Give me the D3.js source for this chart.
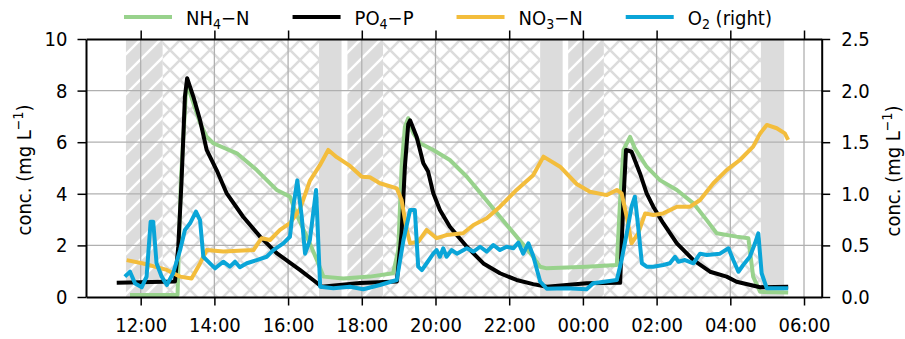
<!DOCTYPE html>
<html>
<head>
<meta charset="utf-8">
<script src="https://cdn.jsdelivr.net/npm/d3@7"></script>
<style>
body { margin: 0; background: #ffffff; }
svg text { font-family: 'DejaVu Sans Condensed', 'DejaVu Sans', sans-serif; font-stretch: condensed; font-size: 20px; fill: #000; }
</style>
</head>
<body>
<svg id="chart" width="905" height="339"></svg>
<script>
// times are hours counted from midnight of the first day
const nh4Time = [11.71, 12.93, 13.0, 13.09, 13.23, 13.27, 13.61, 13.79, 13.97, 14.61, 15.15, 15.69, 16.05, 16.23, 16.59, 16.82, 16.96, 17.50, 18.22, 18.85, 18.99, 19.08, 19.17, 19.26, 19.40, 19.58, 19.94, 20.39, 20.85, 21.30, 21.75, 22.20, 22.65, 22.84, 23.02, 24.10, 24.92, 25.01, 25.10, 25.28, 25.41, 25.73, 26.09, 26.55, 27.00, 27.36, 27.63, 28.17, 28.49, 28.62, 28.81, 29.57];
const nh4 = [0.08, 0.08, 0.08, 4.5, 8.0, 8.2, 6.75, 6.21, 5.96, 5.57, 4.92, 4.15, 3.89, 3.2, 2.08, 1.3, 0.79, 0.72, 0.79, 0.92, 1.82, 5.05, 6.6, 6.93, 6.34, 5.96, 5.7, 5.31, 4.66, 3.89, 3.11, 2.34, 1.56, 1.17, 1.11, 1.17, 1.24, 3.76, 5.7, 6.21, 5.76, 5.05, 4.53, 4.15, 3.63, 2.98, 2.47, 2.34, 2.28, 0.79, 0.2, 0.17];

const po4Time = [11.35, 12.93, 13.02, 13.11, 13.20, 13.26, 13.43, 13.61, 13.79, 14.06, 14.33, 14.78, 15.24, 15.69, 16.32, 16.68, 16.91, 17.95, 18.95, 19.08, 19.17, 19.26, 19.31, 19.49, 19.67, 19.80, 19.94, 20.12, 20.39, 20.85, 21.30, 21.75, 22.20, 22.65, 23.02, 24.10, 25.01, 25.10, 25.17, 25.32, 25.55, 25.73, 25.91, 26.18, 26.55, 27.00, 27.45, 27.90, 28.17, 28.81, 29.57];
const po4 = [0.55, 0.6, 1.95, 4.53, 7.76, 8.48, 7.76, 6.86, 5.7, 4.92, 4.03, 3.11, 2.34, 1.7, 1.05, 0.66, 0.4, 0.54, 0.6, 2.48, 5.05, 6.7, 6.85, 6.2, 5.18, 4.86, 4.02, 3.37, 2.72, 1.95, 1.3, 0.92, 0.66, 0.5, 0.4, 0.53, 0.55, 3.76, 5.7, 5.63, 4.79, 4.02, 3.5, 2.86, 2.08, 1.43, 0.98, 0.79, 0.59, 0.38, 0.4];

const no3Time = [11.62, 12.07, 12.71, 13.07, 13.38, 13.61, 13.79, 14.24, 15.06, 15.28, 15.51, 15.78, 16.05, 16.32, 16.59, 16.86, 17.09, 17.32, 17.68, 18.00, 18.22, 18.49, 18.95, 19.08, 19.22, 19.31, 19.53, 19.76, 20.03, 20.30, 20.75, 21.03, 21.39, 21.75, 22.20, 22.65, 22.93, 23.38, 23.83, 24.19, 24.65, 24.92, 25.05, 25.19, 25.32, 25.50, 25.69, 25.91, 26.18, 26.55, 26.91, 27.18, 27.54, 27.90, 28.26, 28.62, 28.81, 28.99, 29.26, 29.48, 29.57];
const no3 = [1.43, 1.3, 1.05, 0.79, 0.72, 1.3, 1.82, 1.76, 1.82, 2.28, 2.21, 2.6, 2.86, 3.4, 4.5, 5.1, 5.7, 5.42, 5.08, 4.66, 4.64, 4.41, 4.21, 3.76, 2.6, 2.08, 2.14, 2.6, 2.28, 2.4, 2.47, 2.79, 3.05, 3.5, 4.15, 4.72, 5.44, 5.05, 4.38, 4.08, 3.95, 4.15, 4.02, 3.11, 2.08, 2.47, 3.24, 3.18, 3.24, 3.5, 3.5, 3.76, 4.41, 4.92, 5.31, 5.83, 6.34, 6.67, 6.54, 6.34, 6.09];

const o2Time = [11.57, 11.71, 11.85, 12.03, 12.16, 12.27, 12.34, 12.43, 12.57, 12.71, 12.88, 13.07, 13.20, 13.34, 13.50, 13.61, 13.70, 13.79, 14.02, 14.24, 14.42, 14.56, 14.69, 14.88, 15.15, 15.42, 15.60, 15.87, 16.05, 16.14, 16.25, 16.37, 16.46, 16.59, 16.76, 16.87, 17.23, 17.68, 18.04, 18.49, 18.95, 19.13, 19.31, 19.44, 19.53, 19.63, 19.76, 19.94, 20.03, 20.12, 20.21, 20.30, 20.44, 20.58, 20.85, 21.03, 21.21, 21.39, 21.57, 21.75, 21.93, 22.11, 22.25, 22.38, 22.52, 22.65, 22.84, 23.02, 23.56, 24.10, 24.28, 24.92, 25.05, 25.19, 25.32, 25.41, 25.50, 25.60, 25.73, 25.91, 26.18, 26.36, 26.50, 26.59, 26.77, 27.00, 27.18, 27.36, 27.72, 27.95, 28.08, 28.22, 28.35, 28.53, 28.67, 28.76, 28.85, 28.99, 29.57];
const o2 = [0.197, 0.245, 0.13, 0.094, 0.197, 0.73, 0.73, 0.327, 0.197, 0.116, 0.23, 0.455, 0.65, 0.714, 0.827, 0.746, 0.39, 0.358, 0.278, 0.342, 0.294, 0.342, 0.288, 0.327, 0.358, 0.39, 0.455, 0.52, 0.584, 0.875, 1.13, 0.778, 0.42, 0.55, 1.037, 0.1, 0.084, 0.1, 0.075, 0.116, 0.165, 0.55, 0.843, 0.843, 0.294, 0.26, 0.327, 0.42, 0.455, 0.39, 0.472, 0.39, 0.455, 0.42, 0.472, 0.44, 0.487, 0.44, 0.504, 0.455, 0.487, 0.472, 0.526, 0.42, 0.52, 0.4, 0.15, 0.08, 0.084, 0.075, 0.133, 0.165, 0.358, 0.617, 0.875, 0.972, 0.681, 0.327, 0.294, 0.294, 0.31, 0.327, 0.39, 0.342, 0.358, 0.327, 0.42, 0.407, 0.42, 0.472, 0.358, 0.245, 0.31, 0.39, 0.52, 0.617, 0.23, 0.084, 0.084];

// reactor phases (fill / aeration / settling)
const phaseStart = [11.60, 12.60, 16.84, 17.61, 18.58, 22.84, 23.60, 24.57, 28.83];
const phaseEnd   = [12.60, 16.84, 17.45, 18.58, 22.84, 23.45, 24.57, 28.83, 29.46];
const phaseType  = ['fill', 'aer', 'settle', 'fill', 'aer', 'settle', 'fill', 'aer', 'settle'];

const leftTicks = [0, 2, 4, 6, 8, 10];
const rightTicks = [0, 0.5, 1.0, 1.5, 2.0, 2.5];
const seriesNames = [['NH', '4', '\u2212N'], ['PO', '4', '\u2212P'], ['NO', '3', '\u2212N'], ['O', '2', ' (right)']];
const seriesColors = ['#98d28c', '#000000', '#f3bd3c', '#0aa5d8'];

const day0 = new Date(2021, 0, 1);
const toDate = h => new Date(day0.getTime() + h * 3600e3);

const margin = { left: 86, right: 821.7, top: 39, bottom: 297 };
const svg = d3.select('#chart');

const x = d3.scaleTime()
    .domain([toDate(10.516), toDate(30.48)])
    .range([margin.left, margin.right]);
const yL = d3.scaleLinear().domain([0, 10]).range([margin.bottom, margin.top]);
const yR = d3.scaleLinear().domain([0, 2.5]).range([margin.bottom, margin.top]);

// hatch patterns
const defs = svg.append('defs');
const diag = defs.append('pattern')
    .attr('id', 'diag')
    .attr('patternUnits', 'userSpaceOnUse')
    .attr('width', 20).attr('height', 20);
diag.append('rect').attr('width', 20).attr('height', 20).attr('fill', '#dcdcdc');
diag.append('path')
    .attr('d', 'M-10,10L10,-10M-10,30L30,-10M10,30L30,10')
    .attr('stroke', '#ffffff')
    .attr('stroke-width', 2.5);

const cross = defs.append('pattern')
    .attr('id', 'cross')
    .attr('patternUnits', 'userSpaceOnUse')
    .attr('width', 20).attr('height', 20);
cross.append('rect').attr('width', 20).attr('height', 20).attr('fill', '#ffffff');
cross.append('path')
    .attr('d', 'M-10,10L10,-10M-10,30L30,-10M10,30L30,10M-10,-10L30,30M10,-10L30,10M-10,10L10,30')
    .attr('stroke', '#dcdcdc')
    .attr('stroke-width', 2.5);

const phaseFill = { fill: 'url(#diag)', aer: 'url(#cross)', settle: '#dcdcdc' };

svg.append('g')
    .selectAll('rect')
    .data(phaseStart)
    .enter().append('rect')
    .attr('x', d => x(toDate(d)))
    .attr('width', (d, i) => x(toDate(phaseEnd[i])) - x(toDate(d)))
    .attr('y', margin.top)
    .attr('height', margin.bottom - margin.top)
    .attr('fill', (d, i) => phaseFill[phaseType[i]]);

// grid
const timeTicks = x.ticks(d3.timeHour.every(2));
const grid = svg.append('g').attr('stroke', '#b0b0b0').attr('stroke-width', 1.3);
grid.selectAll('.vg')
    .data(timeTicks)
    .enter().append('line')
    .attr('x1', d => x(d)).attr('x2', d => x(d))
    .attr('y1', margin.top).attr('y2', margin.bottom);
grid.selectAll('.hg')
    .data(leftTicks.slice(1, -1))
    .enter().append('line')
    .attr('x1', margin.left).attr('x2', margin.right)
    .attr('y1', d => yL(d)).attr('y2', d => yL(d));

// series
function drawLine(times, values, y, color) {
    const line = d3.line()
        .x(d => x(toDate(d[0])))
        .y(d => y(d[1]));
    svg.append('path')
        .datum(times.map((t, i) => [t, values[i]]))
        .attr('d', line)
        .attr('fill', 'none')
        .attr('stroke', color)
        .attr('stroke-width', 4)
        .attr('stroke-linejoin', 'round');
}
drawLine(nh4Time, nh4, yL, seriesColors[0]);
drawLine(po4Time, po4, yL, seriesColors[1]);
drawLine(no3Time, no3, yL, seriesColors[2]);
drawLine(o2Time, o2, yR, seriesColors[3]);

// axes
function styleAxis(g) {
    g.select('.domain').attr('stroke', '#000').attr('stroke-width', 2);
    g.selectAll('.tick line').attr('stroke', '#000').attr('stroke-width', 1.5);
    g.selectAll('text').attr('font-size', null).attr('font-family', null);
}

svg.append('g')
    .attr('transform', `translate(0,${margin.bottom})`)
    .call(d3.axisBottom(x).ticks(d3.timeHour.every(2)).tickFormat(d3.timeFormat('%H:%M'))
        .tickSize(8.5).tickSizeOuter(0).tickPadding(12))
    .call(styleAxis);

svg.append('g')
    .attr('transform', `translate(0,${margin.top})`)
    .call(d3.axisTop(x).ticks(d3.timeHour.every(2)).tickFormat('')
        .tickSize(8.5).tickSizeOuter(0))
    .call(styleAxis);

svg.append('g')
    .attr('transform', `translate(${margin.left},0)`)
    .call(d3.axisLeft(yL).tickValues(leftTicks).tickFormat(d3.format('d'))
        .tickSize(8.5).tickSizeOuter(0).tickPadding(10))
    .call(styleAxis);

svg.append('g')
    .attr('transform', `translate(${margin.right},0)`)
    .call(d3.axisRight(yR).tickValues(rightTicks).tickFormat(d3.format('.1f'))
        .tickSize(8.5).tickSizeOuter(0).tickPadding(11))
    .call(styleAxis);

// axis titles
function axisTitle(xPos, yPos) {
    const t = svg.append('text')
        .attr('transform', `translate(${xPos},${yPos}) rotate(-90)`)
        .attr('text-anchor', 'middle');
    t.append('tspan').text('conc.  (mg L');
    t.append('tspan').attr('font-size', '14px').attr('dy', -8).text('\u22121');
    t.append('tspan').attr('dy', 8).text(')');
}
axisTitle(31, 170);
axisTitle(900, 171);

// legend
const legend = svg.append('g').attr('class', 'legend');
let lx = 124;
seriesNames.forEach((parts, i) => {
    legend.append('line')
        .attr('x1', lx).attr('x2', lx + 48)
        .attr('y1', 17).attr('y2', 17)
        .attr('stroke', seriesColors[i])
        .attr('stroke-width', 4);
    const t = legend.append('text').attr('x', lx + 62).attr('y', 25);
    t.append('tspan').text(parts[0]);
    t.append('tspan').attr('font-size', '14px').attr('dy', 4).text(parts[1]);
    t.append('tspan').attr('dy', -4).text(parts[2]);
    lx = lx + 62 + t.node().getComputedTextLength() + 43;
});
</script>
</body>
</html>
